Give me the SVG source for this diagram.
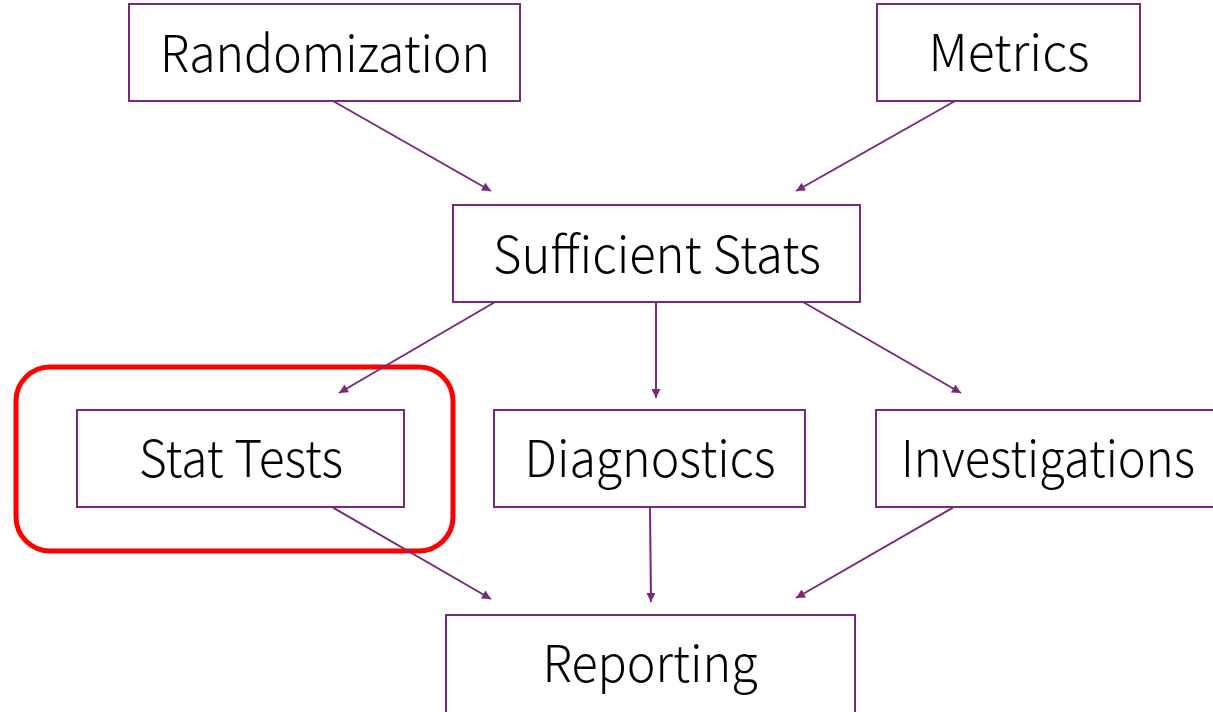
<svg xmlns="http://www.w3.org/2000/svg" width="1213" height="712" viewBox="0 0 1213 712">
<style>
.box{fill:#fff;stroke:#772A7A;stroke-width:2}
.lbl{font-family:"Noto Sans CJK KR","Open Sans","Liberation Sans",sans-serif;font-weight:300;font-size:51px;fill:#000;text-anchor:middle}
.con{stroke:#772A7A;stroke-width:2;fill:none;marker-end:url(#ah)}
</style>
<defs>
<marker id="ah" viewBox="0 0 10 10" refX="10" refY="5" markerWidth="11" markerHeight="9" orient="auto" markerUnits="userSpaceOnUse">
<path d="M0,0L10,5L0,10z" fill="#772A7A"/>
</marker>
</defs>
<rect x="0" y="0" width="1213" height="712" fill="#fff"/>
<g id="highlight"><rect x="16" y="367" width="437" height="184" rx="34" fill="none" stroke="#FF0000" stroke-width="5"/></g>
<g id="connectors">
<line class="con" x1="333" y1="101" x2="491" y2="191"/>
<line class="con" x1="955" y1="101" x2="796" y2="191"/>
<line class="con" x1="495" y1="302" x2="339" y2="393"/>
<line class="con" x1="656" y1="302" x2="656" y2="398"/>
<line class="con" x1="803" y1="302" x2="961" y2="393"/>
<line class="con" x1="332" y1="507" x2="491" y2="599"/>
<line class="con" x1="650" y1="507" x2="651" y2="602"/>
<line class="con" x1="954" y1="507" x2="796" y2="598"/>
</g>
<g id="randomization"><rect class="box" x="129" y="4" width="391" height="97"/><text class="lbl" x="325" y="72" textLength="330" lengthAdjust="spacingAndGlyphs">Randomization</text></g>
<g id="metrics"><rect class="box" x="877" y="4" width="263" height="97"/><text class="lbl" x="1009" y="71" textLength="161" lengthAdjust="spacingAndGlyphs">Metrics</text></g>
<g id="sufficient"><rect class="box" x="453" y="205" width="407" height="97"/><text class="lbl" x="657" y="273" textLength="328" lengthAdjust="spacingAndGlyphs">Sufficient Stats</text></g>
<g id="stattests"><rect class="box" x="77" y="410" width="327" height="97"/><text class="lbl" x="241" y="477" textLength="204" lengthAdjust="spacingAndGlyphs">Stat Tests</text></g>
<g id="diagnostics"><rect class="box" x="494" y="410" width="311" height="97"/><text class="lbl" x="650" y="477" textLength="251" lengthAdjust="spacingAndGlyphs">Diagnostics</text></g>
<g id="investigations"><rect class="box" x="876" y="410" width="345" height="97"/><text class="lbl" x="1048" y="477" textLength="294" lengthAdjust="spacingAndGlyphs">Investigations</text></g>
<g id="reporting"><rect class="box" x="446" y="615" width="409" height="105"/><text class="lbl" x="650" y="682" textLength="215" lengthAdjust="spacingAndGlyphs">Reporting</text></g>
</svg>
